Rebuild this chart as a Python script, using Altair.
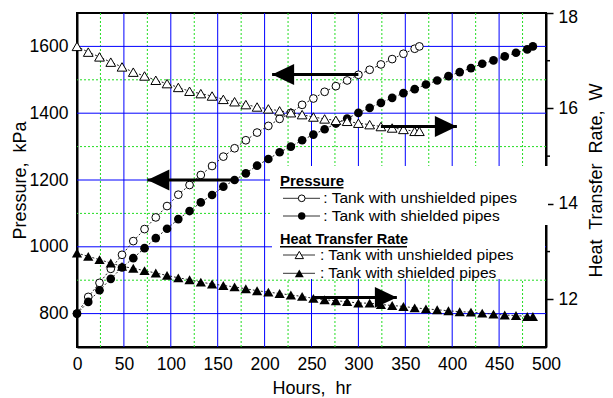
import altair as alt
import pandas as pd

FONT = "Liberation Sans"
BLUE = "#0000ff"
GREEN = "#22dd22"
SP2 = "\u00a0 "

# ---------------- data ----------------
hours_unshielded = list(range(0, 361, 12)) + [365]
pressure_unshielded = [800, 850, 892, 934, 976, 1017, 1053, 1088, 1122, 1156,
                       1185, 1215, 1242, 1270, 1295, 1319, 1342, 1362, 1383, 1401,
                       1425, 1444, 1464, 1481, 1498, 1515, 1530, 1546, 1562, 1578,
                       1593, 1600]
heat_unshielded = [17.30, 17.18, 17.08, 16.97, 16.87, 16.76, 16.68, 16.59, 16.52, 16.44,
                   16.36, 16.31, 16.26, 16.19, 16.14, 16.08, 16.03, 15.99, 15.95, 15.91,
                   15.87, 15.82, 15.78, 15.75, 15.73, 15.69, 15.66, 15.62, 15.59, 15.56,
                   15.52, 15.52]

hours_shielded = list(range(0, 481, 12)) + [486]
pressure_shielded = [800, 835, 870, 904, 938, 966, 996, 1026, 1054, 1083,
                     1107, 1133, 1155, 1180, 1200, 1220, 1243, 1263, 1283, 1300,
                     1319, 1336, 1352, 1369, 1384, 1401, 1416, 1431, 1446, 1460,
                     1472, 1486, 1498, 1511, 1523, 1535, 1548, 1558, 1570, 1581,
                     1591, 1600]
heat_shielded = [12.97, 12.90, 12.83, 12.76, 12.69, 12.65, 12.60, 12.55, 12.50, 12.45,
                 12.41, 12.36, 12.32, 12.29, 12.26, 12.22, 12.18, 12.15, 12.12, 12.09,
                 12.06, 12.02, 11.99, 11.97, 11.95, 11.92, 11.92, 11.89, 11.87, 11.85,
                 11.82, 11.80, 11.78, 11.76, 11.74, 11.73, 11.71, 11.69, 11.67, 11.66,
                 11.64, 11.64]

# annotation arrows (data coordinates)
p_arrow_tail = [300, 166]
p_arrow_tip = [208, 75]
p_arrow_y = [1516, 1200]
h_arrow_tail = [324, 252]
h_arrow_tip = [405, 341]
h_arrow_y = [15.62, 12.04]

# axis ticks / grid
x_ticks = list(range(0, 501, 50))
x_grid_major = list(range(50, 451, 50))
x_grid_minor = list(range(25, 476, 50))
yl_ticks = [800, 1000, 1200, 1400, 1600]
yl_grid_major = [800, 1000, 1200, 1400, 1600]
yl_grid_minor = [900, 1100, 1300, 1500]
yr_ticks = [12, 14, 16, 18]
yr_minor_ticks = [13, 15, 17]

# ---------------- tables ----------------
p_un = pd.DataFrame({"hours": hours_unshielded, "v": pressure_unshielded})
p_sh = pd.DataFrame({"hours": hours_shielded, "v": pressure_shielded})
h_un = pd.DataFrame({"hours": hours_unshielded, "v": heat_unshielded})
h_sh = pd.DataFrame({"hours": hours_shielded, "v": heat_shielded})
p_arr = pd.DataFrame({"tail": p_arrow_tail, "tip": p_arrow_tip, "v": p_arrow_y})
h_arr = pd.DataFrame({"tail": h_arrow_tail, "tip": h_arrow_tip, "v": h_arrow_y})
gx_major = pd.DataFrame({"hours": x_grid_major})
gx_minor = pd.DataFrame({"hours": x_grid_minor})
gy_major = pd.DataFrame({"v": yl_grid_major})
gy_minor = pd.DataFrame({"v": yl_grid_minor})
minor = pd.DataFrame({"v": yr_minor_ticks})
one = pd.DataFrame({"k": [0]})

x_scale = alt.Scale(domain=[0, 500], nice=False, zero=False)
yl_scale = alt.Scale(domain=[700, 1700], nice=False, zero=False)
yr_scale = alt.Scale(domain=[11, 18], nice=False, zero=False)

AX = dict(labelFont=FONT, labelFontSize=17.5, labelColor="black",
          titleFont=FONT, titleFontSize=18, titleFontWeight="normal", titleColor="black",
          domainColor="black", domainWidth=2, labelOverlap=False, labelFlush=False,
          grid=False, format="d")

x_axis = alt.Axis(orient="bottom", values=x_ticks, title="Hours," + SP2 + "hr", ticks=False, tickSize=0,
                  labelPadding=8, titleX=234.5, titleY=46, titleBaseline="alphabetic",
                  titleAlign="center", **AX)
yl_axis = alt.Axis(orient="left", values=yl_ticks, title="Pressure," + SP2 + "kPa", ticks=False, tickSize=0,
                   labelPadding=9, titleAngle=270, titleX=-52, titleY=167,
                   titleBaseline="alphabetic", titleAlign="center", **AX)
yr_axis = alt.Axis(orient="right", values=yr_ticks,
                   title="Heat" + SP2 + "Transfer" + SP2 + "Rate," + SP2 + "W",
                   ticks=True, tickSize=7, tickColor="black", tickWidth=1.5,
                   labelPadding=5,
                   labelOffset={"condition": {"test": "datum.value === 18", "value": 4}, "value": 0},
                   titleAngle=270, titleX=55, titleY=167,
                   titleBaseline="alphabetic", titleAlign="center", **AX)

X = alt.X("hours:Q", scale=x_scale, axis=x_axis)
X_TAIL = alt.X("tail:Q", scale=x_scale, axis=x_axis)
X_TIP = alt.X("tip:Q", scale=x_scale, axis=x_axis)
YL_MAIN = alt.Y("v:Q", scale=yl_scale, axis=yl_axis)
YL = alt.Y("v:Q", scale=yl_scale, axis=None)
YR_MAIN = alt.Y("v:Q", scale=yr_scale, axis=yr_axis)
YR = alt.Y("v:Q", scale=yr_scale, axis=None)

LINE = dict(color="#222222", strokeWidth=1, strokeDash=[2, 2])
HEAD_LEFT = "M0,0 L2,-0.95 L2,0.95 Z"
HEAD_RIGHT = "M0,0 L-2,-0.95 L-2,0.95 Z"

layers = []

# grid
layers.append(alt.Chart(gx_minor).mark_rule(color=GREEN, strokeWidth=1, strokeDash=[2, 2]).encode(x=X))
layers.append(alt.Chart(gy_minor).mark_rule(color=GREEN, strokeWidth=1, strokeDash=[2, 2]).encode(y=YL_MAIN))
layers.append(alt.Chart(gx_major).mark_rule(color=BLUE, strokeWidth=1).encode(x=X))
layers.append(alt.Chart(gy_major).mark_rule(color=BLUE, strokeWidth=1).encode(y=YL))

# pressure (left axis)
layers.append(alt.Chart(p_un).mark_line(**LINE).encode(x=X, y=YL))
layers.append(alt.Chart(p_un).mark_point(shape="circle", filled=True, fill="white", stroke="black",
                                         strokeWidth=1, size=60, opacity=1).encode(x=X, y=YL))
layers.append(alt.Chart(p_sh).mark_line(**LINE).encode(x=X, y=YL))
layers.append(alt.Chart(p_sh).mark_point(shape="circle", filled=True, color="black",
                                         size=75, opacity=1).encode(x=X, y=YL))
layers.append(alt.Chart(p_arr).mark_rule(color="black", strokeWidth=3).encode(
    x=X_TAIL, x2="tip:Q", y=YL))
layers.append(alt.Chart(p_arr).mark_point(shape=HEAD_LEFT, filled=True, color="black",
                                          size=484, opacity=1, strokeWidth=0).encode(x=X_TIP, y=YL))

# heat transfer (right axis)
layers.append(alt.Chart(h_un).mark_line(**LINE).encode(x=X, y=YR_MAIN))
layers.append(alt.Chart(h_un).mark_point(shape="triangle-up", filled=True, fill="white", stroke="black",
                                         strokeWidth=1, size=95, opacity=1).encode(x=X, y=YR))
layers.append(alt.Chart(h_sh).mark_line(**LINE).encode(x=X, y=YR))
layers.append(alt.Chart(h_sh).mark_point(shape="triangle-up", filled=True, color="black",
                                         size=105, opacity=1).encode(x=X, y=YR))
layers.append(alt.Chart(h_arr).mark_rule(color="black", strokeWidth=3).encode(
    x=X_TAIL, x2="tip:Q", y=YR))
layers.append(alt.Chart(h_arr).mark_point(shape=HEAD_RIGHT, filled=True, color="black",
                                          size=484, opacity=1, strokeWidth=0).encode(x=X_TIP, y=YR))
layers.append(alt.Chart(minor).mark_rule(color="black", strokeWidth=1.5).encode(
    x=alt.value(469), x2=alt.value(473), y=YR))


# legend (pixel placed)
def box(x1, x2, y1, y2):
    return alt.Chart(one).mark_rect(color="white").encode(
        x=alt.value(x1), x2=alt.value(x2), y=alt.value(y1), y2=alt.value(y2))


def txt(x, y, s, bold=False, size=15.5):
    return alt.Chart(one).mark_text(align="left", baseline="alphabetic", font=FONT,
                                    fontSize=size, fontWeight="bold" if bold else "normal",
                                    color="black").encode(
        x=alt.value(x), y=alt.value(y), text=alt.value(s))


def hline(x1, x2, y, w=1, c="#333333"):
    return alt.Chart(one).mark_rule(color=c, strokeWidth=w).encode(
        x=alt.value(x1), x2=alt.value(x2), y=alt.value(y))


def sym(x, y, shape, filled_black, size):
    if filled_black:
        m = alt.Chart(one).mark_point(shape=shape, filled=True, color="black", size=size, opacity=1)
    else:
        m = alt.Chart(one).mark_point(shape=shape, filled=True, fill="white", stroke="black",
                                      strokeWidth=1, size=size, opacity=1)
    return m.encode(x=alt.value(x), y=alt.value(y))


layers += [
    box(193, 471, 153, 212),
    box(195, 468, 212, 266),
    txt(203, 172.7, "Pressure", bold=True, size=15),
    hline(203, 266.5, 174.8, w=1.5, c="black"),
    hline(206, 243, 185.3),
    sym(224.7, 185.3, "circle", False, 45),
    txt(246.3, 190.3, ": Tank with unshielded pipes"),
    hline(206, 243, 203),
    sym(224.7, 203, "circle", True, 55),
    txt(246.3, 208, ": Tank with shielded pipes"),
    txt(203, 231.3, "Heat Transfer Rate", bold=True, size=14.5),
    hline(203, 330, 233.7, w=1.5, c="black"),
    hline(206, 238, 242),
    sym(222.3, 242, "triangle-up", False, 70),
    txt(243, 247, ": Tank with unshielded pipes"),
    hline(206, 238, 260.3),
    sym(222.3, 260.3, "triangle-up", True, 80),
    txt(243, 265.3, ": Tank with shielded pipes"),
]

chart = alt.layer(*layers).resolve_scale(y="independent").properties(
    width=469, height=334,
    padding={"left": 69, "top": 5, "right": 59, "bottom": 51},
    autosize=alt.AutoSizeParams(type="none"),
    background="white",
).configure_view(stroke="black", strokeWidth=2)

chart.save("out.html", embed_options={"renderer": "svg", "actions": False})
